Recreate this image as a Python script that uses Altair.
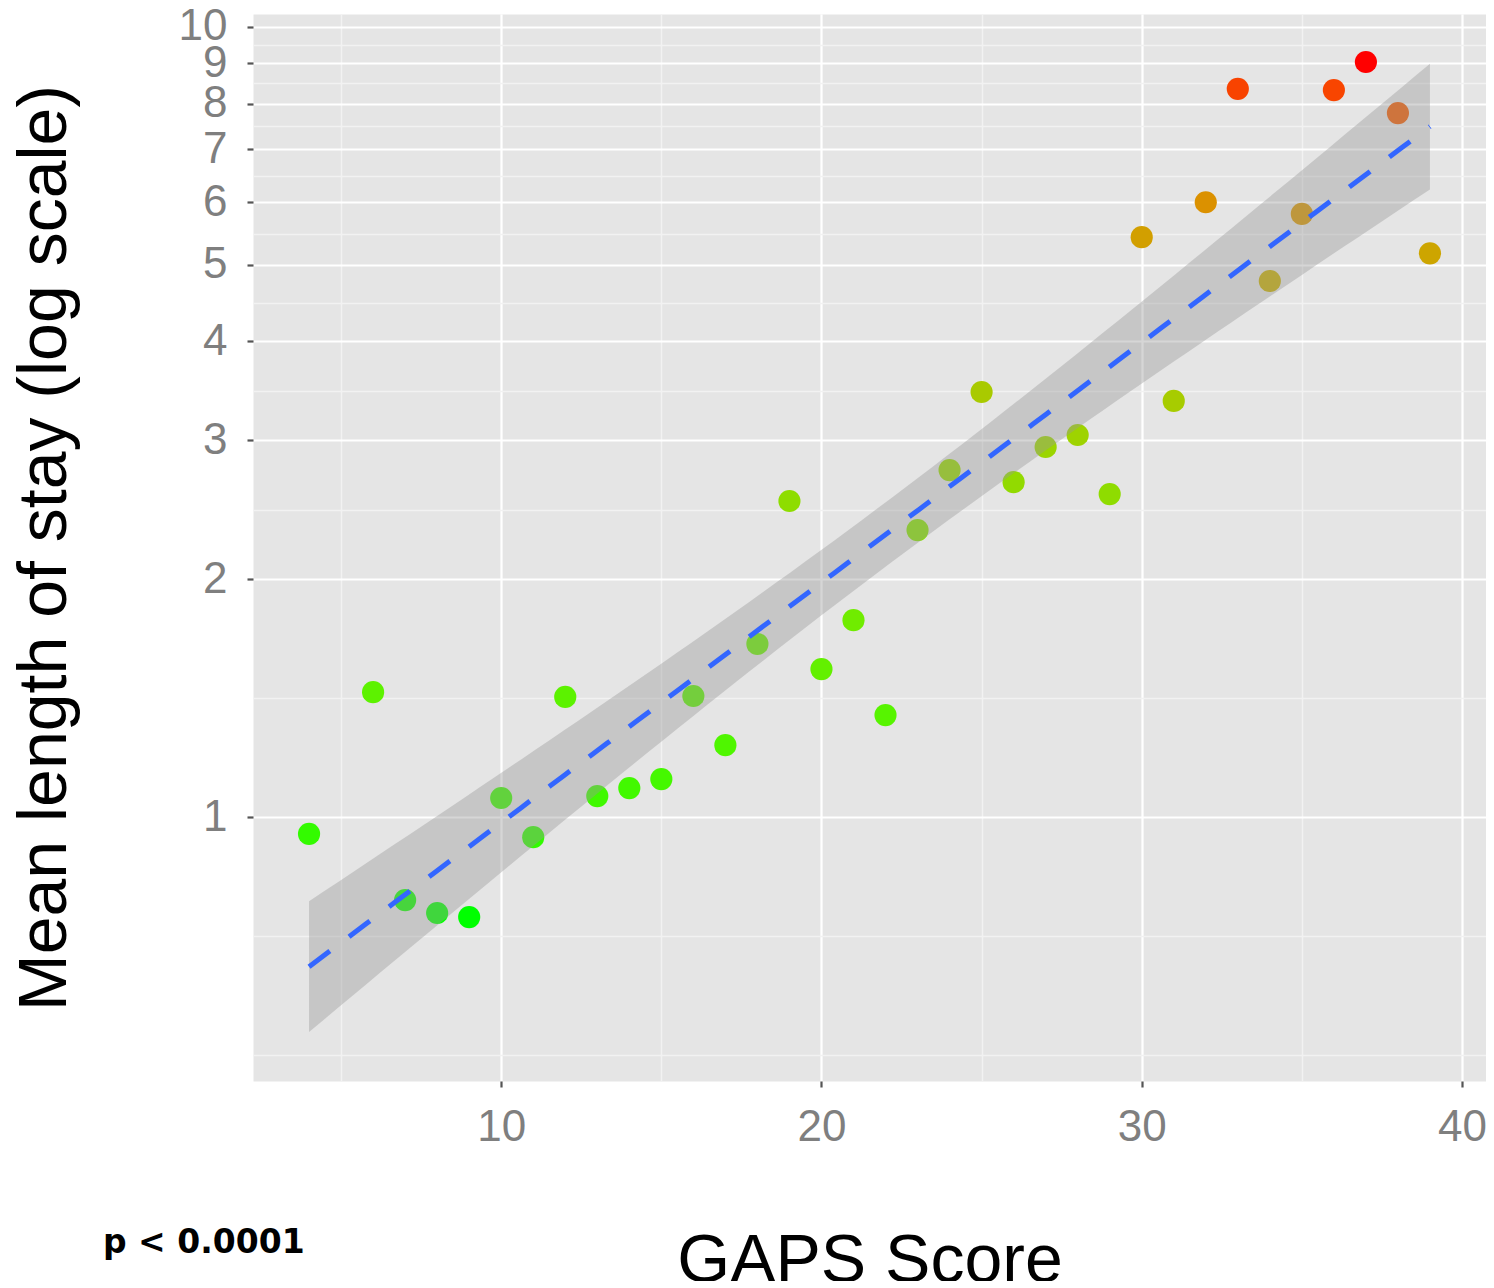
import numpy as np
import pandas as pd
import altair as alt

# ---- data ----
gaps_score = [4, 6, 7, 8, 9, 10, 11, 12, 13, 14, 15, 16, 17, 18, 19, 20, 21, 22, 23,
              24, 25, 26, 27, 28, 29, 30, 31, 32, 33, 34, 35, 36, 37, 38, 39]
mean_los = [0.952, 1.439, 0.785, 0.756, 0.747, 1.057, 0.943, 1.419, 1.063, 1.088,
            1.117, 1.423, 1.233, 1.656, 2.512, 1.539, 1.775, 1.346, 2.308, 2.749,
            3.451, 2.654, 2.940, 3.045, 2.563, 5.42, 3.363, 6.00, 8.35, 4.77,
            5.80, 8.32, 9.03, 7.78, 5.17]

x_major = [10, 20, 30, 40]
x_minor = [5, 15, 25, 35]
y_major = [1, 2, 3, 4, 5, 6, 7, 8, 9, 10]
y_minor = [0.5, 0.7071, 1.4142, 2.4495, 3.4641, 4.4721, 5.4772, 6.4807, 7.4833, 8.4853, 9.4868]

pts = pd.DataFrame({"gaps": gaps_score, "los": mean_los})

# ---- linear fit on log10 scale with 95% confidence band (as geom_smooth lm) ----
x = np.array(gaps_score, float)
ly = np.log10(np.array(mean_los, float))
n = len(x)
b, a = np.polyfit(x, ly, 1)
resid = ly - (a + b * x)
s = np.sqrt(np.sum(resid ** 2) / (n - 2))
xm = x.mean()
sxx = np.sum((x - xm) ** 2)
tq = 2.0345  # t(0.975, df=33)
xs = np.linspace(x.min(), x.max(), 80)
fit = a + b * xs
se = s * np.sqrt(1.0 / n + (xs - xm) ** 2 / sxx)
band = pd.DataFrame({"gaps": xs, "fit": 10 ** fit,
                     "lo": 10 ** (fit - tq * se), "hi": 10 ** (fit + tq * se)})

xscale = alt.Scale(domain=[2.25, 40.75], nice=False, zero=False)
yscale = alt.Scale(type="log", domain=[0.4633, 10.386], nice=False)

xmaj_test = "datum.value % 10 == 0"
ymaj_test = "datum.value == round(datum.value)"

x_axis = alt.Axis(
    values=sorted(x_major + x_minor),
    labelExpr=f"{xmaj_test} ? format(datum.value, 'd') : ''",
    grid=True,
    gridColor={"condition": {"test": xmaj_test, "value": "#FFFFFF"}, "value": "#F2F2F2"},
    gridWidth={"condition": {"test": xmaj_test, "value": 2.2}, "value": 1.4},
    tickOpacity={"condition": {"test": xmaj_test, "value": 1}, "value": 0},
    tickColor="#555555", tickWidth=2.2, tickSize=6,
    domain=False,
    labelFont="Liberation Sans", labelFontSize=44, labelColor="#7F7F7F",
    labelPadding=18, labelOverlap=False, labelFlush=False,
    title="GAPS Score", titleFont="Liberation Sans", titleFontSize=68,
    titleFontWeight="normal", titleColor="#000000",
    titleBaseline="alphabetic", titleAlign="center", titleX=616.5, titleY=200,
)

y_axis = alt.Axis(
    values=sorted(y_major + y_minor),
    labelExpr=f"{ymaj_test} ? format(datum.value, 'd') : ''",
    grid=True,
    gridColor={"condition": {"test": ymaj_test, "value": "#FFFFFF"}, "value": "#F2F2F2"},
    gridWidth={"condition": {"test": ymaj_test, "value": 2.2}, "value": 1.4},
    tickOpacity={"condition": {"test": ymaj_test, "value": 1}, "value": 0},
    tickColor="#555555", tickWidth=2.2, tickSize=6,
    domain=False,
    labelFont="Liberation Sans", labelFontSize=44, labelColor="#7F7F7F",
    labelPadding=20, labelOverlap=False, labelFlush=False, labelBaseline="middle",
    title="Mean length of stay (log scale)", titleFont="Liberation Sans", titleFontSize=68,
    titleFontWeight="normal", titleColor="#000000",
    titleAngle=270, titleBaseline="alphabetic", titleAlign="center",
    titleX=-188, titleY=533.5,
)

points = alt.Chart(pts).mark_circle(size=491, opacity=1).encode(
    x=alt.X("gaps:Q", scale=xscale, axis=x_axis),
    y=alt.Y("los:Q", scale=yscale, axis=y_axis),
    color=alt.Color("los:Q", legend=None,
                    scale=alt.Scale(domain=[min(mean_los), max(mean_los)],
                                    range=["#00FF00", "#FF0000"], interpolate="lab")),
)

ribbon = alt.Chart(band).mark_area(color="#999999", opacity=0.4).encode(
    x=alt.X("gaps:Q", scale=xscale),
    y=alt.Y("lo:Q", scale=yscale),
    y2="hi:Q",
)

line = alt.Chart(band).mark_line(color="#3366FF", strokeWidth=5, strokeDash=[26, 24]).encode(
    x=alt.X("gaps:Q", scale=xscale),
    y=alt.Y("fit:Q", scale=yscale),
)

chart = alt.layer(points, ribbon, line).properties(
    width=1233, height=1067,
    autosize=alt.AutoSizeParams(type="none"),
    padding={"left": 245, "top": 6, "right": 0, "bottom": 200},
    title=alt.TitleParams(
        text="p < 0.0001", orient="bottom", anchor="start", frame="group",
        font="DejaVu Sans", fontSize=33, fontWeight="bold", color="#000000",
        baseline="alphabetic", offset=0, dx=-150, dy=-42,
    ),
).configure_view(fill="#E5E5E5", stroke="transparent")

chart.save("out.html", embed_options={"renderer": "svg", "actions": False})
